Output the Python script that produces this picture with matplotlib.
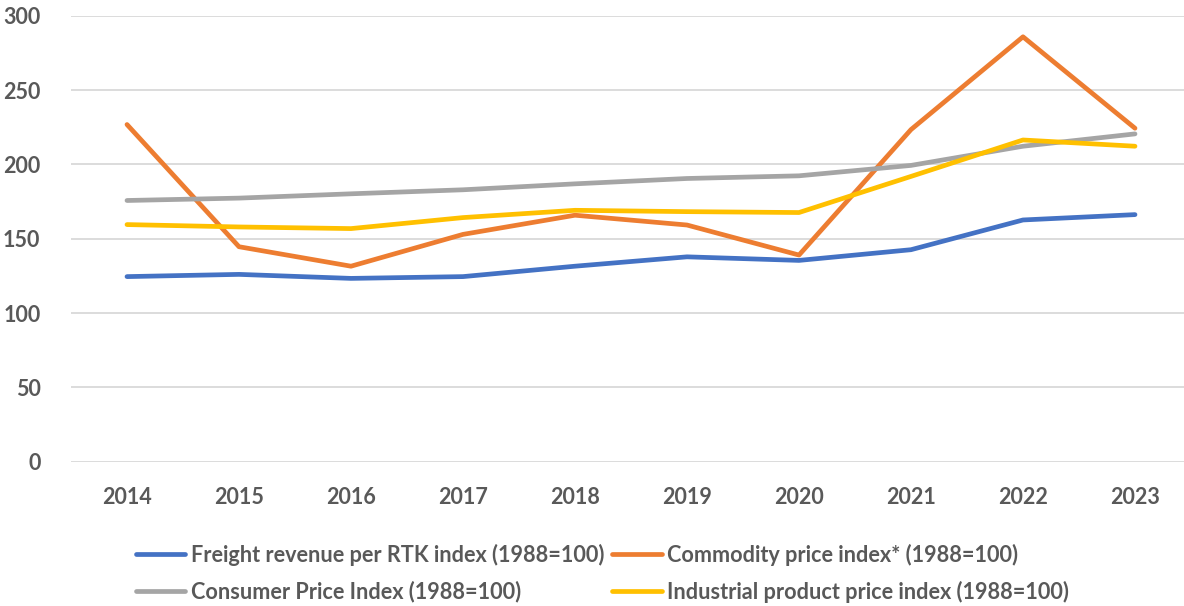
import matplotlib
matplotlib.use("Agg")
import matplotlib.pyplot as plt

years = ["2014", "2015", "2016", "2017", "2018", "2019", "2020", "2021", "2022", "2023"]
freight = [124.5, 126, 123.3, 124.5, 131.5, 137.8, 135.4, 142.6, 162.6, 166.2]
commodity = [226.8, 144.6, 131.5, 152.9, 165.8, 159.2, 139, 223.4, 285.8, 224.3]
cpi = [175.7, 177.3, 180.2, 182.9, 186.9, 190.5, 192.3, 199.3, 212.2, 220.5]
industrial = [159.5, 157.9, 156.8, 164.2, 169.1, 168.2, 167.6, 191.9, 216.4, 212.2]

labels = ["Freight revenue per RTK index (1988=100)",
          "Commodity price index* (1988=100)",
          "Consumer Price Index (1988=100)",
          "Industrial product price index (1988=100)"]
colors = ["#4472C4", "#ED7D31", "#A5A5A5", "#FFC000"]
yticks = [0, 50, 100, 150, 200, 250, 300]

plt.rcParams['font.family'] = ['Lato', 'DejaVu Sans']
text_color = "#595959"

fig = plt.figure(figsize=(11.84, 6.06), dpi=100)
ax = fig.add_axes([71/1184, 1 - 461.7/606, 1 - 71/1184, (461.7 - 15.7)/606])

x = list(range(len(years)))
handles = []
for series, c, lab in zip([freight, commodity, cpi, industrial], colors, labels):
    h, = ax.plot(x, series, color=c, lw=3.4, solid_capstyle='round',
                 solid_joinstyle='round', label=lab, zorder=3)
    handles.append(h)

ax.set_xlim(-0.5, 9.5 - 7/112)
ax.set_ylim(0, 300)
ax.set_yticks(yticks)
ax.set_xticks(x)
ax.set_xticklabels(years)
ax.grid(axis='y', color='#D9D9D9', lw=1.3, zorder=0)
for s in ax.spines.values():
    s.set_visible(False)
ax.tick_params(axis='both', length=0, colors=text_color, labelsize=15.5)
ax.tick_params(axis='y', pad=22)
ax.tick_params(axis='x', pad=18)
for t in ax.get_xticklabels() + ax.get_yticklabels():
    t.set_fontweight('bold')

# legend is filled column-wise; order so rows read Freight/Commodity, CPI/Industrial
order = [0, 2, 1, 3]
leg = fig.legend([handles[i] for i in order], [labels[i] for i in order], ncol=2,
                 loc='upper left', bbox_to_anchor=(116/1184, 1 - 524/606), frameon=False,
                 prop={'weight': 'bold', 'size': 15.6}, handlelength=2.3,
                 handletextpad=0.25, columnspacing=0.35, labelspacing=0.7)
for t in leg.get_texts():
    t.set_color(text_color)

fig.savefig("out.png", dpi=100)
